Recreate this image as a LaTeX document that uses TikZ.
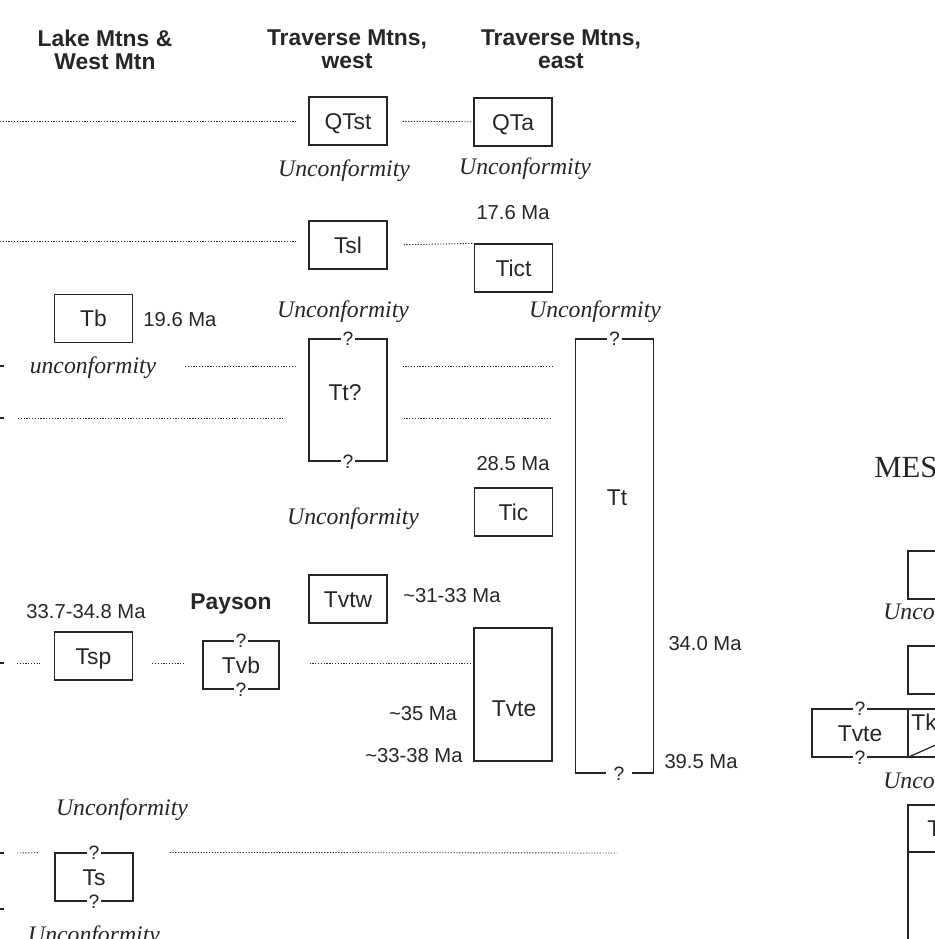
\documentclass[tikz,border=0pt]{standalone}
\usepackage{fontspec}
\setmainfont{Liberation Serif}
\setsansfont{Liberation Sans}
\definecolor{ink}{gray}{0.15}
\newcommand\unitfont{\sffamily\fontsize{13}{15}\selectfont}
\newcommand\agefont{\sffamily\fontsize{11.5}{13}\selectfont}
\newcommand\headfont{\sffamily\bfseries\fontsize{13}{13}\selectfont}
\newcommand\unconffont{\rmfamily\itshape\fontsize{13.5}{15}\selectfont}
\newcommand\qfont{\sffamily\fontsize{11}{12}\selectfont}

\begin{document}
\begin{tikzpicture}[x=0.02cm, y=-0.02cm,
  unitlab/.style={font=\unitfont, text=ink, text height=9.4pt, text depth=0pt, inner sep=0pt},
  unit/.style={unitlab, draw=ink, line width=0.7pt, minimum width=1.56cm, minimum height=0.96cm},
  qmark/.style={fill=white, inner sep=1pt, font=\qfont, text=ink},
  contact/.style={draw=ink, line width=0.5pt, dash pattern=on 0.7pt off 0.9pt},
  age/.style={font=\agefont, text=ink, anchor=base, inner sep=0pt},
  unconf/.style={font=\unconffont, text=ink, anchor=base, inner sep=0pt},
  head/.style={font=\headfont, align=center, text=ink, inner sep=0pt}]
  \useasboundingbox (0,0) rectangle (934,939);
  % los encabezados
  \node[head] (lake) at (105,49.5) {Lake Mtns \&\\West Mtn};
  \node[head] (travw) at (347,49.5) {Traverse Mtns,\\west};
  \node[head] (trave) at (561,49.5) {Traverse Mtns,\\east};
  \node[head, anchor=base] (payson) at (231,609) {Payson};
  % las unidades
  \node[unit] (QTst) at (348,121) {QTst};
  \node[unit] (QTa) at (513,122) {QTa};
  \node[unit] (Tsl) at (348,245) {Tsl};
  \node[unit] (Tict) at (513.5,268) {Tict};
  \node[unit] (Tb) at (93.5,318.5) {Tb};
  \node[unit, minimum height=2.44cm] (Ttq) at (348,400) {};
  \node[unitlab] (Ttqlab) at (345,392) {Tt?};
  \node[unit, minimum height=8.68cm] (Tt) at (614.5,556) {};
  \node[unitlab] (Ttlab) at (617,497) {Tt};
  \node[unit] (Tic) at (513.5,512) {Tic};
  \node[unit] (Tvtw) at (348,599) {Tvtw};
  \node[unit] (Tsp) at (93.5,656) {Tsp};
  \node[unit, minimum width=1.52cm] (Tvb) at (241,665) {Tvb};
  \node[unit, minimum height=2.66cm] (Tvte) at (513,694.5) {};
  \node[unitlab] (Tvtelab) at (514,708.5) {Tvte};
  \node[unit] (Ts) at (94,877) {Ts};
  % las dudas, encima de los bordes
  \foreach \u in {Ttq,Tvb,Ts} {
    \node[qmark] (\u top) at (\u.north) {?};
    \node[qmark] (\u bot) at (\u.south) {?};
  }
  \node[qmark] (Tttop) at (Tt.north) {?};
  \node[qmark, inner xsep=4.3pt] (Ttbot) at ([xshift=2.5]Tt.south) {?};
  % las edades
  \node[age] (a176) at (513,219) {17.6 Ma};
  \node[age] (a196) at (180,326) {19.6 Ma};
  \node[age] (a285) at (513,470) {28.5 Ma};
  \node[age] (a3133) at (452,602) {\textasciitilde31-33 Ma};
  \node[age] (a3348) at (86,618) {33.7-34.8 Ma};
  \node[age] (a340) at (705,650) {34.0 Ma};
  \node[age] (a35) at (423,720) {\textasciitilde35 Ma};
  \node[age] (a3338) at (414,762) {\textasciitilde33-38 Ma};
  \node[age] (a395) at (701,768) {39.5 Ma};
  % las discordancias
  \node[unconf] (u1) at (344,176) {Unconformity};
  \node[unconf] (u2) at (525,174) {Unconformity};
  \node[unconf] (u3) at (343,317) {Unconformity};
  \node[unconf] (u4) at (595,317) {Unconformity};
  \node[unconf] (u5) at (93,373) {unconformity};
  \node[unconf] (u6) at (353,524) {Unconformity};
  \node[unconf] (u7) at (122,815) {Unconformity};
  \node[unconf] (u8) at (94,942) {Unconformity};
  % los contactos punteados
  \coordinate (e1) at (0,121);
  \coordinate (e2) at (0,241);
  \coordinate (e3a) at (185,366);
  \coordinate (e3b) at (553,366);
  \coordinate (e4a) at (18,418);
  \coordinate (e4b) at (551,418);
  \coordinate (e5) at (17,663);
  \coordinate (e6a) at (17,853);
  \coordinate (e6b) at (617,853);
  \draw[contact, shorten >=0.26cm] (e1) -- (QTst.west);
  \draw[contact, shorten <=0.3cm] (QTst) -- (QTa);
  \draw[contact, shorten >=0.26cm] (e2) -- (Tsl.west |- e2);
  \draw[contact, shorten <=0.32cm] (Tsl.east) -- (Tict.north west);
  \draw[contact, shorten >=0.26cm] (e3a) -- (Ttq.west |- e3a);
  \draw[contact, shorten <=0.3cm] (Ttq.east |- e3b) -- (e3b);
  \draw[contact, shorten >=0.52cm] (e4a) -- (Ttq.west |- e4a);
  \draw[contact, shorten <=0.32cm] (Ttq.east |- e4b) -- (e4b);
  \draw[contact, shorten >=0.28cm] (e5) -- (Tsp.west |- e5);
  \draw[contact, shorten <=0.38cm, shorten >=0.36cm] (Tsp.east |- e5) -- (Tvb.west |- e5);
  \draw[contact, shorten <=0.6cm, shorten >=0.04cm] (Tvb.east |- e5) -- (Tvte.west |- e5);
  \draw[contact, shorten >=0.3cm] (e6a) -- (Ts.north west);
  \draw[contact, shorten <=0.72cm] (Ts.north east) -- (e6b);
  % los restos de la columna cortada a la izquierda
  \foreach \y in {366,418,663,853,909}
    \draw[ink, line width=0.7pt] (0,\y) -- (4,\y);
  % la columna cortada a la derecha
  \node[font=\rmfamily\fontsize{17.5}{20}\selectfont, text=ink, anchor=west, inner sep=0pt] (mes) at (874,467) {MES};
  \node[unit] (R1) at (947,575) {};
  \node[unconf, anchor=base west] (u9) at (883,619) {Unconformity};
  \node[unit] (R2) at (947,670) {};
  \node[unit, minimum width=1.92cm] (Tvtex) at (860,733) {Tvte};
  \node[qmark] (Tvtextop) at (Tvtex.north) {?};
  \node[qmark] (Tvtexbot) at (Tvtex.south) {?};
  \node[unit] (Tk) at (947,733) {};
  \node[unitlab, anchor=west] (Tklab) at (911,722) {Tk};
  \draw[ink, line width=0.7pt] (Tk.south west) -- ++(78,-35);
  \node[unconf, anchor=base west] (u10) at (883,788) {Unconformity};
  \node[unit, minimum height=4cm] (R3) at (947,905) {};
  \coordinate (cut) at (0,852);
  \draw[ink, line width=0.7pt] (R3.west |- cut) -- (R3.east |- cut);
  \node[unitlab, anchor=west] (R3lab) at (927,828) {T};
\end{tikzpicture}
\end{document}
